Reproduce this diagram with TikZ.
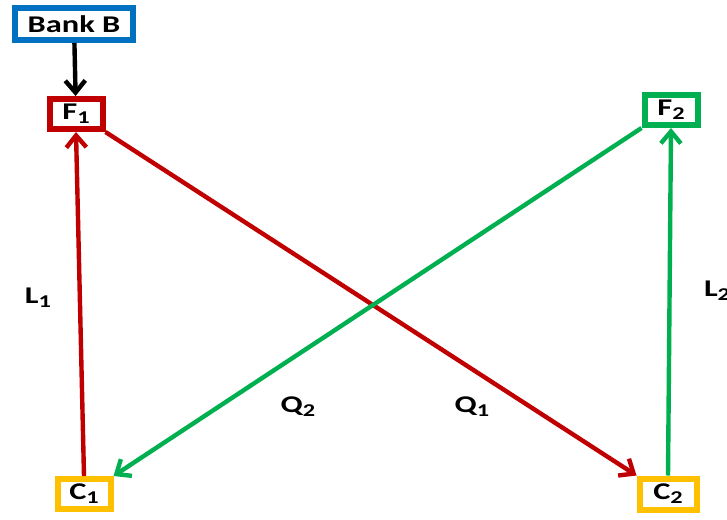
\documentclass[tikz,border=0pt]{standalone}
\usepackage{fontspec}
\setmainfont{Carlito}
\newfontfamily\boxfont[FakeStretch=1.35]{Carlito}
\usetikzlibrary{positioning, arrows.meta, calc}

\definecolor{bankblue}{RGB}{0,112,192}
\definecolor{firmred}{RGB}{192,0,0}
\definecolor{firmgreen}{RGB}{0,176,80}
\definecolor{consorange}{RGB}{255,192,0}

\newcommand{\sub}[1]{\raisebox{-0.35ex}{\fontsize{9}{9}\selectfont #1}}

\begin{document}
\begin{tikzpicture}[
    x=0.5pt, y=-0.5pt,
    > = {Straight Barb[length=6pt, width=10pt, line width=2.2pt]},
    line width=2.2pt,
    box/.style={draw, line width=3pt, fill=white, inner sep=0pt,
        minimum width=26.5pt, minimum height=15pt,
        font=\boxfont\bfseries\fontsize{12}{12}\selectfont},
    lab/.style={font=\boxfont\bfseries\fontsize{12}{12}\selectfont}
]
\useasboundingbox (0,0) rectangle (727,519);

% --- Boxes ---
\node[box, draw=bankblue, minimum width=59pt, minimum height=16pt] (bank) at (74,24) {Bank B};
\node[box, draw=firmred] (F1) at (76,114) {F\sub{1}};
\node[box, draw=firmgreen] (F2) at (671,110) {F\sub{2}};
\node[box, draw=consorange] (C1) at (84,494) {C\sub{1}};
\node[box, draw=consorange, minimum width=28.5pt, minimum height=15.5pt] (C2) at (668,494) {C\sub{2}};

% --- Labels ---
\node[lab] (L1) at (38,298) {L\sub{1}};
\node[lab] (L2) at (717,291) {L\sub{2}};
\node[lab] (Q2) at (298,407) {Q\sub{2}};
\node[lab] (Q1) at (472,407) {Q\sub{1}};

% --- Arrows ---
\draw[->] (bank) -- (F1);
\draw[->, firmred] (C1.north) -- (F1.south);
\draw[->, firmred] (F1.south east) -- (C2.north west);
\draw[->, firmgreen] (F2.south west) -- (C1.north east);
\draw[->, firmgreen] (C2.north) -- (F2.south);

\end{tikzpicture}
\end{document}
